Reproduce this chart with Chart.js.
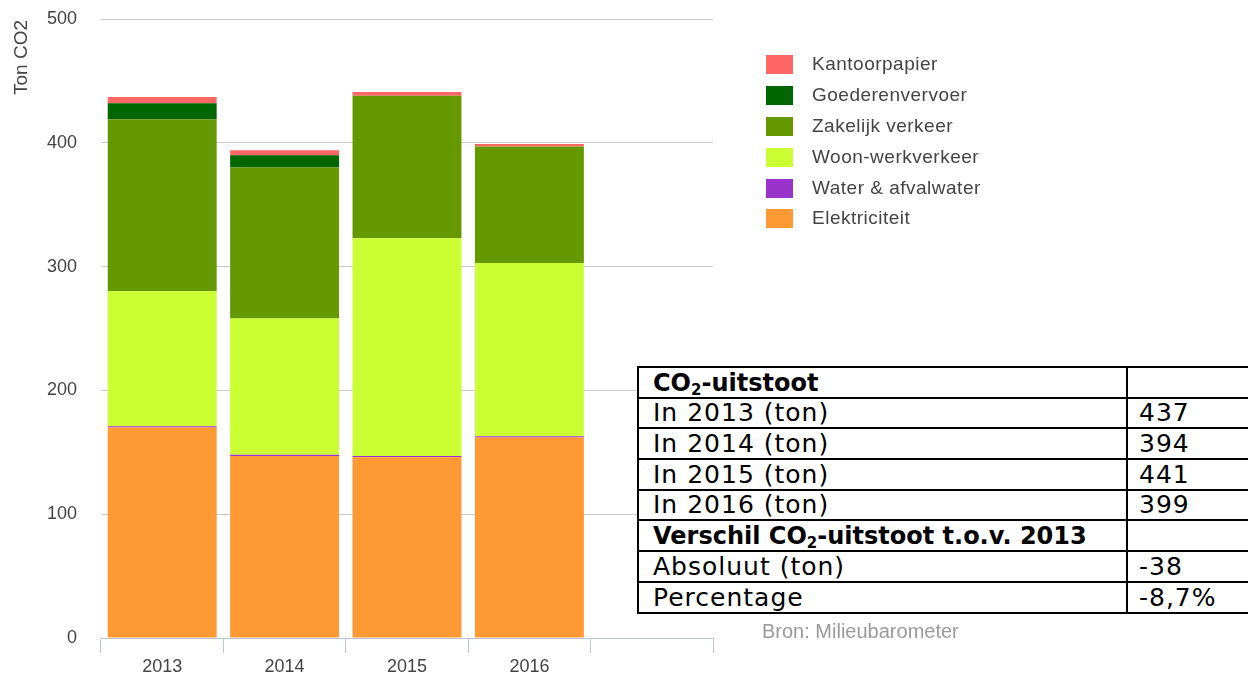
<!DOCTYPE html>
<html>
<head>
<meta charset="utf-8">
<script src="https://cdn.jsdelivr.net/npm/chart.js@4"></script>
<style>
  html,body{margin:0;padding:0;background:#fff;}
  #wrap{position:relative;width:1248px;height:673px;overflow:hidden;}
  #c{position:absolute;left:0;top:0;}
  #legend{position:absolute;left:766px;top:54px;font:19px "Liberation Sans",Arial,sans-serif;color:#444;letter-spacing:0.5px;}
  .li{height:30.9px;position:relative;}
  .sw{position:absolute;left:0;top:1px;width:27px;height:19px;}
  .lt{position:absolute;left:46px;top:-1px;white-space:nowrap;}
  #bron{position:absolute;left:762px;top:620px;font:20px "Liberation Sans",Arial,sans-serif;color:#9a9a9a;white-space:nowrap;}
  #tbl{position:absolute;left:637px;top:366px;border-collapse:collapse;background:#fff;table-layout:fixed;width:640px;}
  #tbl td{border:2px solid #000;height:28.7px;padding:0 0 0 14px;font:25px "DejaVu Sans",sans-serif;letter-spacing:1px;line-height:28px;vertical-align:bottom;white-space:nowrap;overflow:hidden;color:#000;}
  #tbl td.b{font-weight:bold;font-size:24px;letter-spacing:0;}
  #tbl td.v{padding-left:11px;}
  #tbl sub{font-size:15px;vertical-align:-4px;line-height:0;}
</style>
</head>
<body>
<div id="wrap">
  <canvas id="c" width="1248" height="673"></canvas>
  <div id="legend"></div>
  <div id="bron">Bron: Milieubarometer</div>
  <table id="tbl"><colgroup><col style="width:489px"><col style="width:151px"></colgroup><tbody id="tb"></tbody></table>
</div>
<script>
// ---- data ----
const categories = ['2013', '2014', '2015', '2016', ''];
const elektriciteit   = [170, 147, 146, 162, null];
const waterAfvalwater = [1, 1, 1, 1, null];
const woonWerkverkeer = [109, 110, 176, 140, null];
const zakelijkVerkeer = [139, 122, 115, 94, null];
const goederenvervoer = [13, 10, 0, 0, null];
const kantoorpapier   = [5, 4, 3, 2, null];
const yTicks = [0, 100, 200, 300, 400, 500];
const seriesNames = ['Elektriciteit', 'Water & afvalwater', 'Woon-werkverkeer', 'Zakelijk verkeer', 'Goederenvervoer', 'Kantoorpapier'];
const seriesColors = ['#ff9933', '#9933cc', '#ccff33', '#669900', '#006600', '#ff6666'];
const tableLabels = ['CO<sub>2</sub>-uitstoot', 'In 2013 (ton)', 'In 2014 (ton)', 'In 2015 (ton)', 'In 2016 (ton)', 'Verschil CO<sub>2</sub>-uitstoot t.o.v. 2013', 'Absoluut (ton)', 'Percentage'];
const tableValues = ['', '437', '394', '441', '399', '', '-38', '-8,7%'];
const tableBold   = [true, false, false, false, false, true, false, false];

const seriesData = [elektriciteit, waterAfvalwater, woonWerkverkeer, zakelijkVerkeer, goederenvervoer, kantoorpapier];

// ---- legend (top = last stacked) ----
const lg = document.getElementById('legend');
for (let i = seriesNames.length - 1; i >= 0; i--) {
  const d = document.createElement('div'); d.className = 'li';
  d.innerHTML = '<div class="sw" style="background:' + seriesColors[i] + '"></div><div class="lt">' + seriesNames[i].replace('&', '&amp;') + '</div>';
  lg.appendChild(d);
}
// ---- table ----
const tb = document.getElementById('tb');
tableLabels.forEach((l, i) => {
  const tr = document.createElement('tr');
  tr.innerHTML = '<td class="' + (tableBold[i] ? 'b' : '') + '">' + l + '</td><td class="v">' + tableValues[i] + '</td>';
  tb.appendChild(tr);
});

const yTitlePlugin = {
  id: 'ytitle',
  afterDraw(chart) {
    const ctx = chart.ctx;
    ctx.save();
    ctx.translate(27, 20);
    ctx.rotate(-Math.PI / 2);
    ctx.font = '19px "Liberation Sans", Arial, sans-serif';
    ctx.fillStyle = '#444';
    ctx.textAlign = 'right';
    ctx.textBaseline = 'alphabetic';
    ctx.fillText('Ton CO2', 0, 0);
    ctx.restore();
  }
};

new Chart(document.getElementById('c'), {
  type: 'bar',
  data: {
    labels: categories,
    datasets: seriesData.map((d, i) => ({
      label: seriesNames[i],
      data: d,
      backgroundColor: seriesColors[i],
      borderWidth: 0,
      barPercentage: 0.89,
      categoryPercentage: 1.0
    }))
  },
  options: {
    responsive: false,
    animation: false,
    layout: { padding: { left: 0, right: 535, top: 19, bottom: 0 } },
    plugins: { legend: { display: false }, tooltip: { enabled: false } },
    scales: {
      x: {
        stacked: true,
        afterFit(s) { s.height = 35; s.paddingLeft = 0; s.paddingRight = 0; },
        grid: { offset: true, drawOnChartArea: false, drawTicks: true, tickLength: 15, color: '#bcc6d6' },
        border: { display: true, color: '#bcc6d6' },
        ticks: { color: '#444', font: { family: '"Liberation Sans", Arial, sans-serif', size: 18 }, padding: 3 }
      },
      y: {
        stacked: true,
        min: 0, max: 500,
        afterFit(s) { s.width = 101; s.paddingTop = 0; s.paddingBottom = 0; },
        afterBuildTicks(s) { s.ticks = yTicks.map(v => ({ value: v })); },
        grid: { color: '#cccccc', drawTicks: false },
        border: { display: false },
        ticks: { color: '#444', font: { family: '"Liberation Sans", Arial, sans-serif', size: 18 }, padding: 24 }
      }
    }
  },
  plugins: [yTitlePlugin]
});
</script>
</body>
</html>
